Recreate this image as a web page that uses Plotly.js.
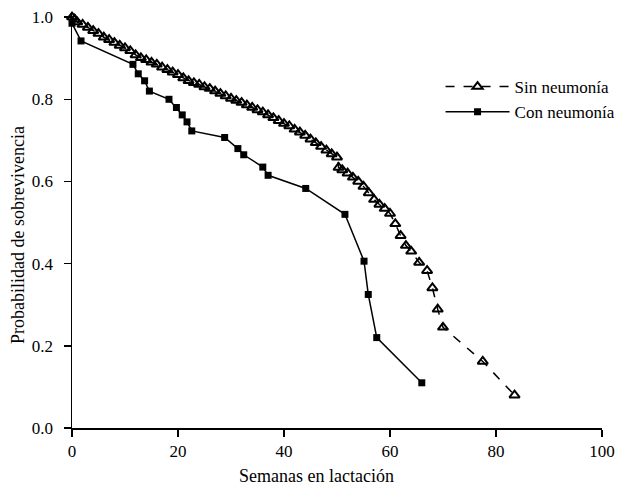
<!DOCTYPE html>
<html>
<head>
<meta charset="utf-8">
<script src="https://cdn.plot.ly/plotly-3.0.1.min.js"></script>
<style>html,body{margin:0;padding:0;background:#fff;}#chart{width:633px;height:496px;}</style>
</head>
<body>
<div id="chart"></div>
<script>
// Sin neumonía (triangles, dashed)
const sinWeeks = [0, 0.5, 1, 2, 3, 4, 5, 6, 7, 8, 9, 10, 11, 12, 13, 14, 15, 16, 17, 18, 19, 20,
  21, 22, 23, 24, 25, 26, 27, 28, 29, 30, 31, 32, 33, 34, 35, 36, 37, 38, 39, 40,
  41, 42, 43, 44, 45, 46, 47, 48, 49, 50, 50.3, 51, 52, 53, 54, 55, 56, 57, 58, 59, 60,
  61, 62, 63, 64, 65.5, 67, 68, 69, 70, 77.5, 83.5];
const sinProb = [1.0, 0.995, 0.988, 0.982, 0.975, 0.967, 0.96, 0.951, 0.945, 0.938, 0.931, 0.925, 0.918, 0.908, 0.901, 0.896, 0.89, 0.885, 0.878, 0.872, 0.866, 0.86,
  0.852, 0.845, 0.84, 0.836, 0.83, 0.826, 0.82, 0.814, 0.808, 0.802, 0.797, 0.792, 0.786, 0.78, 0.774, 0.769, 0.762, 0.755, 0.748, 0.741,
  0.735, 0.727, 0.72, 0.712, 0.703, 0.694, 0.685, 0.676, 0.667, 0.659, 0.634, 0.628, 0.62, 0.61, 0.6, 0.588, 0.572, 0.556, 0.544, 0.534, 0.522,
  0.497, 0.468, 0.444, 0.43, 0.403, 0.383, 0.341, 0.289, 0.245, 0.162, 0.08];

// Con neumonía (squares, solid)
const conWeeks = [0, 1.7, 11.5, 12.5, 13.7, 14.6, 18.3, 19.7, 20.8, 21.7, 22.6, 28.8, 31.3, 32.4, 36.0, 37.0, 44.1, 51.5, 55.1, 55.9, 57.5, 66];
const conProb  = [0.985, 0.942, 0.885, 0.862, 0.845, 0.82, 0.8, 0.78, 0.762, 0.745, 0.723, 0.707, 0.68, 0.665, 0.635, 0.615, 0.583, 0.52, 0.406, 0.325, 0.22, 0.11];

const seriesNames = ["Sin neumonía", "Con neumonía"];
const xTicks = [0, 20, 40, 60, 80, 100];
const yTicks = [0, 0.2, 0.4, 0.6, 0.8, 1.0];
const xTitle = "Semanas en lactación";
const yTitle = "Probabilidad de sobrevivencia";

const serif = "Liberation Serif, Times New Roman, serif";

const traces = [
  {
    x: sinWeeks, y: sinProb, name: seriesNames[0], type: "scatter", mode: "lines+markers",
    line: {color: "#000", width: 1.5, dash: "dash"},
    marker: {symbol: "triangle-up-open", size: 9, color: "#000", line: {color: "#000", width: 2}},
    cliponaxis: false
  },
  {
    x: conWeeks, y: conProb, name: seriesNames[1], type: "scatter", mode: "lines+markers",
    line: {color: "#000", width: 1.5},
    marker: {symbol: "square", size: 7, color: "#000"},
    cliponaxis: false
  }
];

const layout = {
  width: 633, height: 496,
  margin: {l: 72, r: 31, t: 13, b: 68},
  paper_bgcolor: "#fff", plot_bgcolor: "#fff",
  font: {family: serif, color: "#000", size: 17},
  showlegend: true,
  legend: {
    x: 1.035, y: 0.865, xanchor: "right", yanchor: "top",
    font: {family: serif, size: 17, color: "#000"},
    bgcolor: "rgba(0,0,0,0)", itemwidth: 64
  },
  xaxis: {
    range: [0, 100], tickvals: xTicks, ticktext: xTicks.map(String),
    showgrid: false, zeroline: false, showline: true, linecolor: "#000", linewidth: 1.5,
    ticks: "outside", ticklen: 7, tickwidth: 1.5, tickcolor: "#000",
    tickfont: {family: serif, size: 17, color: "#000"}, automargin: false
  },
  yaxis: {
    range: [0, 1.01], tickvals: yTicks, ticktext: yTicks.map(v => v.toFixed(1)),
    showgrid: false, zeroline: false, showline: true, linecolor: "#000", linewidth: 1.5,
    ticks: "outside", ticklen: 7, tickwidth: 1.5, tickcolor: "#000",
    ticklabelstandoff: 7, automargin: false,
    tickfont: {family: serif, size: 17, color: "#000"}
  },
  annotations: [
    {text: xTitle, xref: "paper", yref: "paper", x: (316 - 72) / 530, y: -0.115,
     xanchor: "center", yanchor: "middle", showarrow: false,
     font: {family: serif, size: 18, color: "#000"}},
    {text: yTitle, xref: "paper", yref: "paper", x: (18 - 72) / 530, y: (428 - 235) / 415,
     xanchor: "center", yanchor: "middle", textangle: -90, showarrow: false,
     font: {family: serif, size: 18, color: "#000"}}
  ]
};

Plotly.newPlot("chart", traces, layout, {displayModeBar: false, staticPlot: true});
</script>
</body>
</html>
